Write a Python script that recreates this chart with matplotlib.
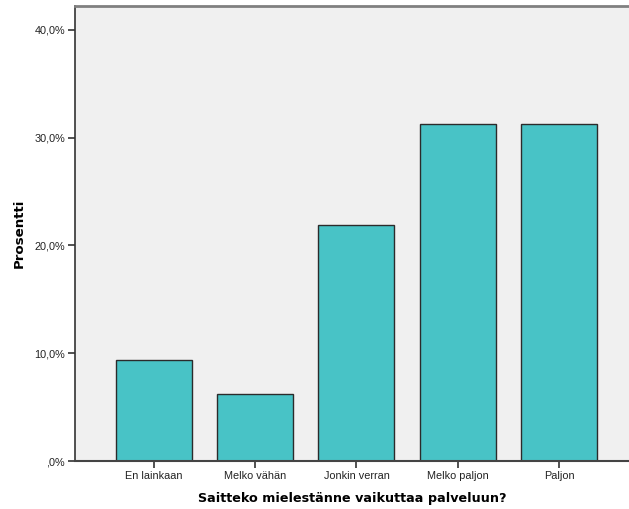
import matplotlib
matplotlib.use("Agg")
import matplotlib.pyplot as plt
from matplotlib.ticker import FuncFormatter

categories = ["En lainkaan", "Melko vähän", "Jonkin verran", "Melko paljon", "Paljon"]
percent = [9.375, 6.25, 21.875, 31.25, 31.25]
y_ticks = [0, 10, 20, 30, 40]

BAR = "#48c3c6"
BG = "#f0f0f0"


def pct_fmt(v, _):
    s = f"{v:.1f}%".replace(".", ",")
    return s[1:] if s.startswith("0,") else s


fig = plt.figure(figsize=(6.29, 5.09), dpi=100)
ax = fig.add_axes([0.119, 0.094, 0.881, 0.894])
ax.set_facecolor(BG)

x = list(range(len(categories)))
ax.bar(x, percent, width=0.75, color=BAR, edgecolor="#2b2b2b", linewidth=1.0, zorder=2)

ax.set_xlim(-0.78, 4.69)
ax.set_ylim(0, 42.2)
ax.set_yticks(y_ticks)
ax.yaxis.set_major_formatter(FuncFormatter(pct_fmt))
ax.set_xticks(x)
ax.set_xticklabels(categories)

for lab in ax.get_xticklabels() + ax.get_yticklabels():
    lab.set_family("Liberation Sans")
    lab.set_fontsize(7.8)
    lab.set_color("#222222")

ax.tick_params(axis="both", direction="out", length=5, width=1.2, color="#333333", pad=2)

ax.spines["right"].set_visible(False)
ax.spines["top"].set_color("#808080")
ax.spines["top"].set_linewidth(2)
ax.spines["left"].set_color("#333333")
ax.spines["left"].set_linewidth(1.2)
ax.spines["bottom"].set_color("#444444")
ax.spines["bottom"].set_linewidth(1.5)

ax.set_xlabel("Saitteko mielestänne vaikuttaa palveluun?", fontsize=9.2,
              fontweight="bold", family="DejaVu Sans", labelpad=8)
ax.set_ylabel("Prosentti", fontsize=9.6, fontweight="bold", family="DejaVu Sans", labelpad=6)

fig.savefig("out.png", dpi=100)
